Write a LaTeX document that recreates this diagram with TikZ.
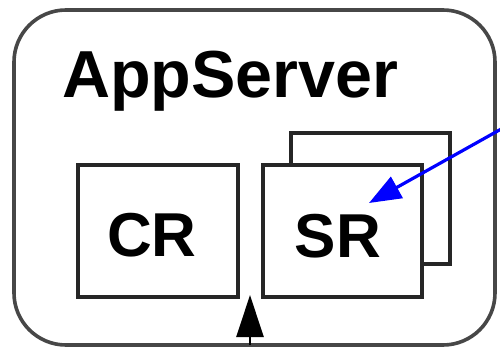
\documentclass[tikz,border=0pt]{standalone}
\usepackage{fontspec}
\setmainfont{Liberation Sans}
\usetikzlibrary{arrows.meta}
\tikzset{
  framebox/.style={draw=black!72, line width=3.6pt, rounded corners=52pt},
  compbox/.style={draw=black!85, line width=3.2pt, fill=white},
  bigtext/.style={font=\bfseries\fontsize{62}{62}\selectfont, inner sep=0pt},
  titletext/.style={font=\bfseries\fontsize{66.5}{66.5}\selectfont, inner sep=0pt},
  bluearrow/.style={draw=blue, line width=3.2pt, -{Triangle[length=32pt,width=24pt]}},
  blackarrow/.style={draw=black, line width=2.5pt, -{Triangle[length=42pt,width=27pt]}}
}
\begin{document}
\begin{tikzpicture}[x=1pt,y=-1pt]
\useasboundingbox[fill=white] (0,0) rectangle (500,350);
% frame
\draw[framebox] (14,10) rectangle (495,345);
\node[titletext, anchor=base west] (title) at (62,98) {AppServer};
% boxes
\draw[compbox] (78,165) rectangle (238,297);
\draw[compbox] (291,133) rectangle (450,264);
\draw[compbox] (263,165) rectangle (422,297);
\node[bigtext, anchor=base] (cr) at (152,256) {CR};
\node[bigtext, anchor=base] (sr) at (338,257) {SR};
% connectors
\coordinate (bluestart) at (503,128);
\coordinate (srtip) at (369,203);
\draw[bluearrow] (bluestart) -- (srtip);
\coordinate (bottomstart) at (250,345);
\coordinate (crsrgap) at (250,295);
\draw[blackarrow] (bottomstart) -- (crsrgap);
\end{tikzpicture}
\end{document}
